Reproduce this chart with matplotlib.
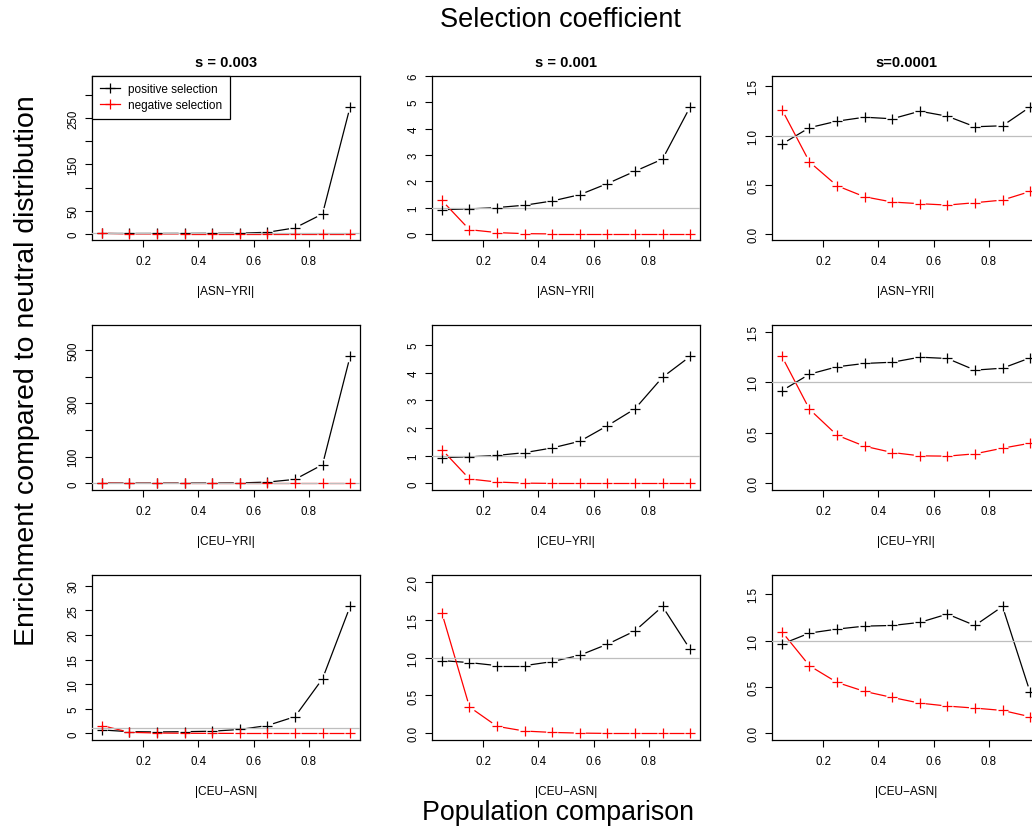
import numpy as np
import matplotlib
matplotlib.use("Agg")
import matplotlib.pyplot as plt

plt.rcParams['font.family'] = ['Liberation Sans', 'DejaVu Sans']

# allele frequency difference bins
x = [0.05, 0.15, 0.25, 0.35, 0.45, 0.55, 0.65, 0.75, 0.85, 0.95]

titles = ['s = 0.003', 's = 0.001', 's=0.0001']
comparisons = ['|ASN\u2212YRI|', '|CEU\u2212YRI|', '|CEU\u2212ASN|']

# enrichment, rows = comparison, cols = selection coefficient
pos_asn_yri_003 = [0.92, 0.95, 1.0, 1.1, 1.3, 1.6, 3.5, 13, 43, 274]
neg_asn_yri_003 = [1.27, 0.1, 0.02, 0, 0, 0, 0, 0, 0, 0]
pos_asn_yri_001 = [0.92, 0.95, 1.0, 1.09, 1.25, 1.49, 1.91, 2.38, 2.84, 4.82]
neg_asn_yri_001 = [1.27, 0.16, 0.05, 0.01, 0, 0, 0, 0, 0, 0]
pos_asn_yri_0001 = [0.913, 1.08, 1.146, 1.186, 1.17, 1.247, 1.196, 1.089, 1.099, 1.29]
neg_asn_yri_0001 = [1.264, 0.731, 0.489, 0.377, 0.324, 0.307, 0.293, 0.317, 0.344, 0.431]

pos_ceu_yri_003 = [0.92, 0.96, 1.0, 1.1, 1.3, 1.8, 5, 15, 70, 475]
neg_ceu_yri_003 = [1.25, 0.1, 0.02, 0, 0, 0, 0, 0, 0, 0]
pos_ceu_yri_001 = [0.93, 0.96, 1.01, 1.11, 1.28, 1.52, 2.08, 2.69, 3.83, 4.58]
neg_ceu_yri_001 = [1.22, 0.16, 0.05, 0.01, 0, 0, 0, 0, 0, 0]
pos_ceu_yri_0001 = [0.918, 1.082, 1.155, 1.188, 1.2, 1.25, 1.237, 1.122, 1.141, 1.243]
neg_ceu_yri_0001 = [1.257, 0.734, 0.477, 0.368, 0.306, 0.273, 0.27, 0.293, 0.349, 0.398]

pos_ceu_asn_003 = [0.7, 0.35, 0.3, 0.35, 0.45, 0.8, 1.6, 3.4, 11.1, 25.8]
neg_ceu_asn_003 = [1.6, 0.22, 0.08, 0.03, 0.01, 0, 0, 0, 0, 0]
pos_ceu_asn_001 = [0.96, 0.934, 0.894, 0.894, 0.947, 1.031, 1.176, 1.352, 1.674, 1.11]
neg_ceu_asn_001 = [1.586, 0.348, 0.093, 0.031, 0.013, 0.004, 0, 0, 0, 0]
pos_ceu_asn_0001 = [0.964, 1.083, 1.126, 1.158, 1.165, 1.198, 1.288, 1.165, 1.37, 0.446]
neg_ceu_asn_0001 = [1.097, 0.73, 0.55, 0.453, 0.388, 0.327, 0.295, 0.273, 0.248, 0.18]

positive = [[pos_asn_yri_003, pos_asn_yri_001, pos_asn_yri_0001],
            [pos_ceu_yri_003, pos_ceu_yri_001, pos_ceu_yri_0001],
            [pos_ceu_asn_003, pos_ceu_asn_001, pos_ceu_asn_0001]]
negative = [[neg_asn_yri_003, neg_asn_yri_001, neg_asn_yri_0001],
            [neg_ceu_yri_003, neg_ceu_yri_001, neg_ceu_yri_0001],
            [neg_ceu_asn_003, neg_ceu_asn_001, neg_ceu_asn_0001]]

xticks = [0.2, 0.4, 0.6, 0.8]
xtick_labels = ['0.2', '0.4', '0.6', '0.8']

# y ticks and the labels that fit (blank = tick only)
yticks = [[[0, 50, 100, 150, 200, 250, 300], [0, 1, 2, 3, 4, 5, 6], [0, 0.5, 1.0, 1.5]],
          [[0, 100, 200, 300, 400, 500], [0, 1, 2, 3, 4, 5], [0, 0.5, 1.0, 1.5]],
          [[0, 5, 10, 15, 20, 25, 30], [0, 0.5, 1.0, 1.5, 2.0], [0, 0.5, 1.0, 1.5]]]
ytick_labels = [[['0', '50', '', '150', '', '250', ''], ['0', '1', '2', '3', '4', '5', '6'],
                 ['0.0', '0.5', '1.0', '1.5']],
                [['0', '100', '', '300', '', '500'], ['0', '1', '2', '3', '4', '5'],
                 ['0.0', '0.5', '1.0', '1.5']],
                [['0', '5', '10', '15', '20', '25', '30'], ['0.0', '0.5', '1.0', '1.5', '2.0'],
                 ['0.0', '0.5', '1.0', '1.5']]]

W, H = 1032, 829
fig = plt.figure(figsize=(W / 100, H / 100), dpi=100)

lefts = [92, 432, 772]
tops = [76.5, 326, 576]
pw, ph = 268, 164.5
GAP = 6  # px gap between line segments and the '+' symbols


def r_range(lo, hi):
    d = (hi - lo) * 0.04
    return lo - d, hi + d


def type_b(ax, xs, ys, color):
    pts = ax.transData.transform(np.column_stack([xs, ys]))
    inv = ax.transData.inverted()
    for p0, p1 in zip(pts[:-1], pts[1:]):
        d = p1 - p0
        L = np.hypot(*d)
        if L <= 2 * GAP:
            continue
        u = d / L
        seg = inv.transform(np.vstack([p0 + u * GAP, p1 - u * GAP]))
        ax.plot(seg[:, 0], seg[:, 1], color=color, lw=0.9, zorder=2,
                solid_capstyle='butt')
    ax.plot(xs, ys, ls='none', marker='+', ms=7, mew=0.9, color=color, zorder=4)


for r in range(3):
    for c in range(3):
        ax = fig.add_axes([lefts[c] / W, 1 - (tops[r] + ph) / H, pw / W, ph / H])
        pos, neg = positive[r][c], negative[r][c]
        ymax = 1.2 * max(max(pos), max(neg))
        ax.set_xlim(*r_range(0.05, 0.95))
        ax.set_ylim(*r_range(0, ymax))
        ax.axhline(1, color='#BEBEBE', lw=0.9, zorder=3)
        type_b(ax, x, pos, 'black')
        type_b(ax, x, neg, '#FF0000')

        ax.set_xticks(xticks)
        ax.set_xticklabels(xtick_labels)
        ax.set_yticks(yticks[r][c])
        ax.set_yticklabels(ytick_labels[r][c])
        ax.tick_params(length=5, width=0.8, labelsize=8.3, pad=6, direction='out')
        ax.tick_params(axis='y', labelrotation=90, pad=4)
        for lbl in ax.get_yticklabels():
            lbl.set_va('center')
        for sp in ax.spines.values():
            sp.set_linewidth(0.9)
        ax.set_xlabel(comparisons[r], fontsize=8.6, labelpad=13)
        if r == 0:
            ax.set_title(titles[c], fontsize=10.5, fontweight='bold', pad=7)
        if r == 0 and c == 0:
            ax.plot([], [], color='black', marker='+', ms=7, mew=0.9, lw=0.9,
                    label='positive selection')
            ax.plot([], [], color='#FF0000', marker='+', ms=7, mew=0.9, lw=0.9,
                    label='negative selection')
            leg = ax.legend(loc='upper left', borderaxespad=0, fontsize=8.5,
                            fancybox=False, framealpha=1, edgecolor='black',
                            handlelength=1.7, handletextpad=0.7, borderpad=0.65,
                            labelspacing=0.35)
            leg.get_frame().set_linewidth(0.9)
            leg.set_zorder(10)

fig.text(560 / W, 1 - 20 / H, 'Selection coefficient', ha='center', va='center', fontsize=19.5)
fig.text(558 / W, 1 - 813 / H, 'Population comparison', ha='center', va='center', fontsize=19.3)
fig.text(27 / W, 1 - 371 / H, 'Enrichment compared to neutral distribution',
         ha='center', va='center', rotation=90, fontsize=20.5)

fig.savefig('out.png', dpi=100)
